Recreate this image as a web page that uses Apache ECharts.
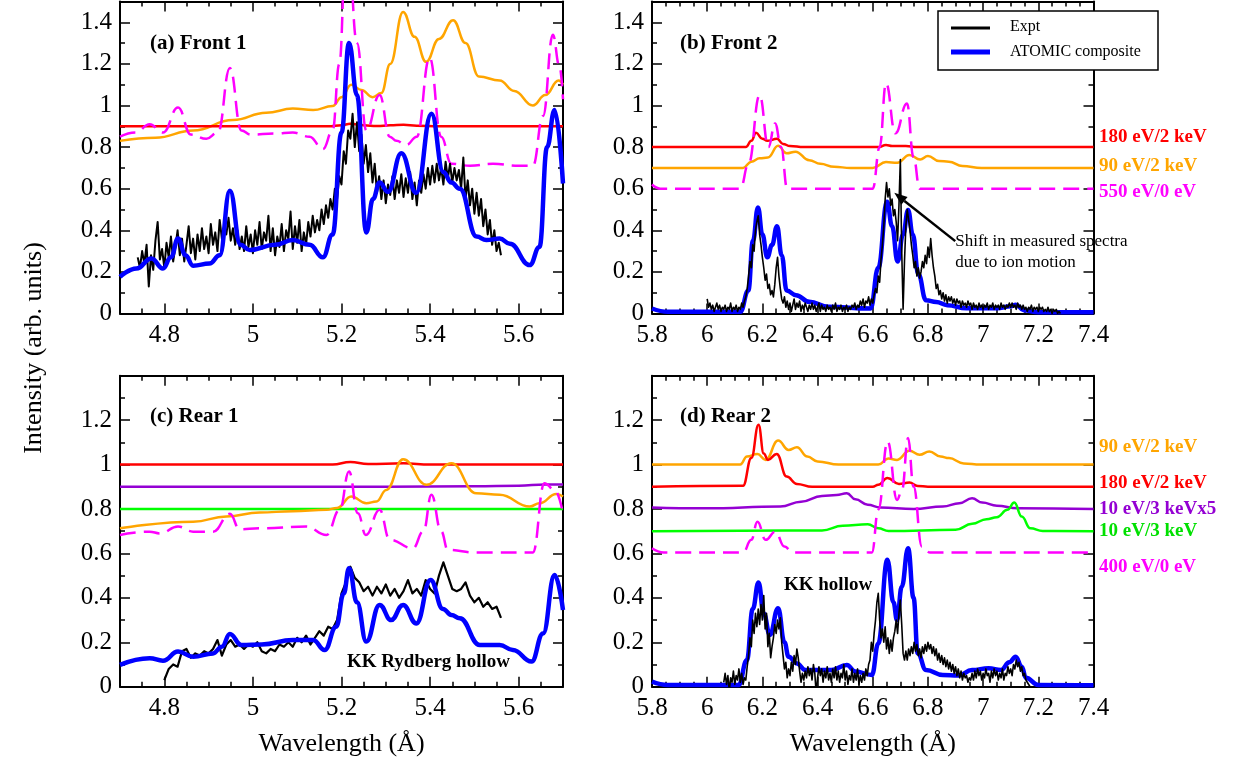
<!DOCTYPE html>
<html>
<head>
<meta charset="utf-8">
<title>Spectra</title>
<script src="https://cdn.jsdelivr.net/npm/echarts@6.0.0/dist/echarts.min.js"></script>
<style>
html, body { margin:0; padding:0; background:#fff; }
#main { width:1234px; height:762px; }
</style>
</head>
<body>
<div id="main"></div>
<script>
// ---------- data ----------
// (a) Front 1
var aRed = [[4.7,0.9],[5.0,0.9],[5.17,0.9],[5.2,0.905],[5.22,0.912],[5.25,0.905],[5.28,0.901],[5.31,0.905],[5.34,0.907],[5.37,0.903],[5.42,0.9],[5.7,0.9]];
var aOrange = [[4.7,0.83],[4.78,0.845],[4.865,0.88],[4.955,0.93],[5.03,0.965],[5.09,0.985],[5.136,0.978],[5.18,0.997],[5.2,1.04],[5.222,1.1],[5.245,1.075],[5.27,1.04],[5.29,1.06],[5.31,1.2],[5.339,1.45],[5.365,1.33],[5.391,1.21],[5.42,1.32],[5.452,1.41],[5.48,1.3],[5.51,1.14],[5.557,1.12],[5.59,1.07],[5.632,1.0],[5.66,1.05],[5.69,1.12],[5.7,1.1]];
var aMagenta = [[4.7,0.85],[4.735,0.87],[4.767,0.91],[4.797,0.87],[4.831,0.99],[4.86,0.86],[4.895,0.84],[4.921,0.87],[4.948,1.18],[4.974,0.88],[4.995,0.86],[5.05,0.865],[5.09,0.87],[5.128,0.85],[5.158,0.79],[5.18,0.88],[5.195,1.2],[5.212,1.9],[5.235,1.3],[5.256,0.88],[5.286,1.05],[5.309,0.85],[5.324,0.83],[5.346,0.81],[5.37,0.85],[5.399,1.23],[5.425,0.85],[5.448,0.72],[5.49,0.71],[5.542,0.72],[5.6,0.71],[5.632,0.71],[5.655,0.95],[5.677,1.34],[5.692,1.19],[5.7,1.03]];
var aBlue = [[4.7,0.176],[4.737,0.216],[4.771,0.265],[4.797,0.216],[4.815,0.27],[4.831,0.36],[4.848,0.28],[4.865,0.23],[4.902,0.24],[4.925,0.28],[4.948,0.59],[4.972,0.33],[4.993,0.305],[5.05,0.33],[5.09,0.353],[5.128,0.33],[5.158,0.27],[5.18,0.38],[5.2,0.87],[5.217,1.30],[5.235,1.05],[5.256,0.39],[5.271,0.55],[5.286,0.63],[5.305,0.585],[5.335,0.77],[5.369,0.58],[5.403,0.96],[5.43,0.68],[5.448,0.63],[5.467,0.6],[5.505,0.37],[5.527,0.353],[5.557,0.36],[5.58,0.335],[5.625,0.233],[5.647,0.32],[5.664,0.8],[5.681,0.978],[5.7,0.625]];
var aExptStart = 4.74, aExptStep = 0.005;
var aExpt = [
  0.27,0.22,0.30,0.24,0.33,0.13,0.28,0.21,0.35,0.44,
  0.26,0.31,0.22,0.34,0.27,0.37,0.25,0.32,0.40,0.28,
  0.36,0.25,0.33,0.42,0.29,0.36,0.26,0.38,0.30,0.41,
  0.31,0.37,0.29,0.43,0.33,0.39,0.30,0.45,0.36,0.42,
  0.38,0.46,0.35,0.41,0.33,0.40,0.31,0.37,0.30,0.42,
  0.32,0.38,0.29,0.40,0.33,0.44,0.31,0.39,0.35,0.47,
  0.30,0.41,0.28,0.37,0.32,0.43,0.30,0.40,0.36,0.49,
  0.31,0.42,0.34,0.45,0.30,0.39,0.33,0.44,0.37,0.47,
  0.39,0.45,0.40,0.50,0.43,0.52,0.46,0.55,0.50,0.60,
  0.55,0.66,0.62,0.78,0.72,0.88,0.84,0.96,0.80,0.92,
  0.78,0.86,0.72,0.81,0.68,0.77,0.63,0.72,0.58,0.66,
  0.55,0.64,0.53,0.62,0.57,0.66,0.55,0.64,0.58,0.67,
  0.56,0.65,0.58,0.68,0.55,0.63,0.52,0.64,0.58,0.67,
  0.60,0.70,0.62,0.71,0.63,0.72,0.64,0.70,0.62,0.73,
  0.65,0.72,0.63,0.70,0.64,0.69,0.60,0.75,0.55,0.64,
  0.52,0.60,0.48,0.58,0.47,0.55,0.42,0.50,0.38,0.45,
  0.33,0.40,0.30,0.34,0.28
];

// (b) Front 2
var bRed = [[5.8,0.8],[6.14,0.8],[6.16,0.83],[6.177,0.869],[6.2,0.84],[6.218,0.83],[6.253,0.84],[6.275,0.815],[6.3,0.805],[6.35,0.8],[6.62,0.8],[6.648,0.81],[6.67,0.805],[6.72,0.805],[6.76,0.8],[7.4,0.8]];
var bOrange = [[5.8,0.7],[6.13,0.7],[6.16,0.73],[6.19,0.746],[6.22,0.75],[6.257,0.806],[6.288,0.77],[6.32,0.778],[6.37,0.737],[6.41,0.72],[6.46,0.705],[6.52,0.7],[6.6,0.7],[6.648,0.728],[6.689,0.725],[6.733,0.762],[6.772,0.74],[6.8,0.757],[6.84,0.733],[6.876,0.73],[6.925,0.709],[6.994,0.7],[7.4,0.7]];
var bMagenta = [[5.8,0.62],[5.83,0.6],[6.12,0.6],[6.15,0.72],[6.19,1.05],[6.222,0.8],[6.246,0.914],[6.268,0.8],[6.29,0.6],[6.6,0.6],[6.625,0.8],[6.648,1.107],[6.682,0.866],[6.724,1.01],[6.748,0.75],[6.77,0.6],[7.4,0.6]];
var bBlue = [[5.8,0.024],[5.858,0.008],[6.12,0.008],[6.149,0.11],[6.166,0.35],[6.184,0.51],[6.2,0.38],[6.218,0.27],[6.235,0.33],[6.253,0.42],[6.27,0.28],[6.288,0.11],[6.322,0.088],[6.37,0.056],[6.44,0.032],[6.592,0.024],[6.62,0.22],[6.652,0.537],[6.67,0.42],[6.69,0.25],[6.71,0.38],[6.728,0.497],[6.745,0.38],[6.765,0.19],[6.793,0.064],[6.83,0.055],[6.87,0.04],[6.94,0.025],[7.05,0.025],[7.1,0.035],[7.119,0.042],[7.147,0.016],[7.2,0.006],[7.4,0.006]];
var bExptStart = 6.0, bExptStep = 0.005;
var bExpt = [
  0.07,0.03,0.05,0.02,0.04,0.01,0.03,0.05,0.02,0.04,0.01,0.03,0.02,0.04,0.01,0.03,0.02,0.05,0.01,0.03,
  0.02,0.04,0.01,0.03,0.02,0.05,0.03,0.06,0.08,0.12,0.18,0.25,0.22,0.33,0.30,0.40,0.44,0.47,0.38,0.33,
  0.27,0.22,0.16,0.19,0.12,0.14,0.09,0.11,0.08,0.14,0.22,0.27,0.18,0.12,0.07,0.05,0.08,0.03,0.06,0.02,
  0.05,0.01,0.04,0.07,0.02,0.05,0.03,0.06,0.01,0.04,0.02,0.05,0.03,0.01,0.04,0.02,0.05,0.02,0.04,0.01,
  0.03,0.05,0.01,0.04,0.02,0.03,0.01,0.04,0.02,0.03,0.01,0.04,0.02,0.05,0.01,0.03,0.02,0.04,0.01,0.03,
  0.02,0.04,0.01,0.03,0.02,0.04,0.03,0.05,0.02,0.04,0.03,0.06,0.04,0.07,0.03,0.06,0.05,0.08,0.04,0.07,
  0.05,0.09,0.12,0.10,0.18,0.15,0.26,0.33,0.42,0.55,0.63,0.56,0.60,0.52,0.55,0.47,0.50,0.44,0.35,0.52,
  0.74,0.30,0.02,0.25,0.42,0.50,0.45,0.40,0.33,0.28,0.22,0.25,0.18,0.22,0.17,0.20,0.25,0.22,0.28,0.24,
  0.32,0.27,0.36,0.28,0.22,0.18,0.12,0.14,0.09,0.11,0.07,0.10,0.06,0.09,0.05,0.08,0.06,0.08,0.05,0.07,
  0.04,0.07,0.05,0.06,0.03,0.06,0.04,0.05,0.03,0.06,0.04,0.05,0.02,0.05,0.03,0.04,0.02,0.05,0.03,0.04,
  0.02,0.04,0.03,0.05,0.02,0.04,0.03,0.05,0.02,0.04,0.03,0.04,0.02,0.05,0.03,0.04,0.02,0.04,0.03,0.05,
  0.03,0.05,0.03,0.04,0.02,0.05,0.03,0.04,0.02,0.04,0.02,0.03,0.01,0.03,0.02,0.04,0.01,0.03,0.02,0.03,
  0.01,0.03,0.02,0.03,0.01,0.02,0.01,0.03,0.01,0.02,0.00,0.02,0.01,0.02,0.00,0.01,0.00
];

// (c) Rear 1
var cRed = [[4.7,1.0],[5.18,1.0],[5.22,1.012],[5.26,1.002],[5.34,1.006],[5.4,1.0],[5.7,1.0]];
var cPurple = [[4.7,0.9],[5.3,0.9],[5.5,0.902],[5.6,0.905],[5.66,0.91],[5.7,0.91]];
var cGreen = [[4.7,0.8],[5.7,0.8]];
var cOrange = [[4.7,0.713],[4.865,0.743],[4.94,0.766],[5.015,0.784],[5.09,0.79],[5.166,0.796],[5.19,0.805],[5.222,0.856],[5.256,0.826],[5.279,0.834],[5.301,0.886],[5.339,1.024],[5.392,0.909],[5.448,1.006],[5.504,0.871],[5.557,0.864],[5.625,0.811],[5.647,0.826],[5.685,0.868],[5.7,0.856]];
var cMagenta = [[4.7,0.683],[4.767,0.698],[4.79,0.69],[4.831,0.721],[4.865,0.698],[4.91,0.698],[4.948,0.778],[4.97,0.709],[5.015,0.713],[5.12,0.721],[5.166,0.683],[5.196,0.796],[5.217,0.969],[5.237,0.781],[5.255,0.683],[5.286,0.796],[5.309,0.661],[5.361,0.623],[5.385,0.7],[5.403,0.864],[5.425,0.7],[5.44,0.616],[5.504,0.604],[5.632,0.604],[5.658,0.916],[5.681,0.886],[5.7,0.781]];
var cBlue = [[4.7,0.098],[4.767,0.128],[4.797,0.117],[4.831,0.158],[4.865,0.135],[4.91,0.15],[4.93,0.18],[4.948,0.237],[4.974,0.188],[5.02,0.19],[5.09,0.21],[5.136,0.21],[5.162,0.165],[5.188,0.27],[5.205,0.42],[5.217,0.533],[5.235,0.38],[5.256,0.203],[5.286,0.368],[5.312,0.30],[5.339,0.368],[5.369,0.285],[5.401,0.48],[5.429,0.35],[5.448,0.323],[5.467,0.308],[5.512,0.188],[5.557,0.188],[5.587,0.165],[5.629,0.113],[5.655,0.24],[5.681,0.503],[5.7,0.345]];
var cExptStart = 4.8, cExptStep = 0.01;
var cExpt = [
  0.03,0.08,0.10,0.09,0.16,0.17,0.13,0.15,0.14,0.16,
  0.15,0.17,0.21,0.14,0.19,0.21,0.18,0.19,0.17,0.19,
  0.18,0.20,0.16,0.15,0.17,0.16,0.19,0.18,0.20,0.18,
  0.22,0.20,0.23,0.19,0.22,0.25,0.23,0.27,0.26,0.30,
  0.42,0.47,0.54,0.49,0.47,0.43,0.45,0.41,0.45,0.42,
  0.46,0.41,0.44,0.40,0.43,0.48,0.42,0.44,0.41,0.48,
  0.44,0.42,0.50,0.56,0.50,0.44,0.43,0.44,0.47,0.41,
  0.38,0.40,0.36,0.38,0.35,0.36,0.31
];

// (d) Rear 2
var dOrange = [[5.8,1.0],[6.12,1.0],[6.144,1.036],[6.182,1.047],[6.212,1.021],[6.257,1.108],[6.295,1.066],[6.325,1.078],[6.363,1.036],[6.4,1.014],[6.476,1.0],[6.62,1.0],[6.657,1.027],[6.688,1.021],[6.733,1.062],[6.77,1.044],[6.805,1.059],[6.846,1.036],[6.876,1.029],[6.93,1.005],[6.99,1.0],[7.4,1.0]];
var dRed = [[5.8,0.9],[6.13,0.905],[6.16,1.03],[6.186,1.179],[6.205,1.05],[6.22,1.021],[6.252,1.048],[6.288,0.946],[6.325,0.913],[6.38,0.9],[6.6,0.9],[6.62,0.909],[6.653,0.939],[6.695,0.913],[6.733,0.919],[6.763,0.904],[6.8,0.9],[7.4,0.9]];
var dPurple = [[5.8,0.807],[5.993,0.803],[6.265,0.811],[6.34,0.833],[6.416,0.859],[6.469,0.863],[6.506,0.871],[6.537,0.844],[6.582,0.819],[6.627,0.807],[6.748,0.8],[6.854,0.811],[6.914,0.826],[6.96,0.848],[6.997,0.829],[7.05,0.815],[7.125,0.803],[7.4,0.8]];
var dGreen = [[5.8,0.7],[6.416,0.703],[6.491,0.724],[6.582,0.731],[6.62,0.713],[6.657,0.701],[6.9,0.706],[6.96,0.733],[7.012,0.754],[7.05,0.763],[7.088,0.796],[7.113,0.829],[7.14,0.766],[7.171,0.713],[7.216,0.701],[7.4,0.7]];
var dMagenta = [[5.8,0.623],[5.842,0.604],[6.13,0.604],[6.16,0.661],[6.182,0.743],[6.212,0.661],[6.247,0.698],[6.28,0.631],[6.31,0.604],[6.597,0.604],[6.62,0.796],[6.654,1.104],[6.688,0.841],[6.706,0.886],[6.728,1.119],[6.748,0.901],[6.778,0.631],[6.808,0.604],[7.4,0.604]];
var dBlue = [[5.8,0.023],[5.857,0.008],[6.114,0.008],[6.144,0.12],[6.165,0.35],[6.186,0.469],[6.205,0.33],[6.227,0.233],[6.257,0.353],[6.28,0.2],[6.295,0.135],[6.325,0.105],[6.356,0.075],[6.45,0.075],[6.506,0.098],[6.537,0.068],[6.597,0.053],[6.62,0.195],[6.653,0.571],[6.675,0.38],[6.688,0.3],[6.705,0.45],[6.728,0.623],[6.748,0.4],[6.763,0.15],[6.793,0.075],[6.854,0.053],[6.91,0.05],[6.96,0.075],[7.02,0.083],[7.065,0.075],[7.095,0.11],[7.118,0.135],[7.14,0.09],[7.155,0.04],[7.2,0.008],[7.4,0.006]];
var dExptStart = 6.06, dExptStep = 0.005;
var dExpt = [
  0.02,0.06,0.01,0.05,-0.02,0.04,0.02,0.07,0.01,0.05,0.03,0.08,0.02,0.06,0.01,0.04,0.03,0.09,0.14,0.22,
  0.18,0.30,0.24,0.33,0.27,0.35,0.28,0.37,0.30,0.41,0.26,0.33,0.18,0.24,0.13,0.18,0.22,0.28,0.24,0.30,
  0.26,0.31,0.20,0.14,0.08,0.11,0.04,0.08,0.05,0.11,0.07,0.14,0.10,0.17,0.13,0.07,0.02,0.06,0.03,0.07,
  0.04,0.09,0.05,0.08,0.03,0.10,0.06,-0.03,0.04,0.09,0.05,0.08,0.02,0.07,0.04,0.09,0.03,0.06,0.02,0.08,
  0.04,0.09,0.03,0.07,0.02,0.06,0.04,0.10,0.03,0.07,0.01,0.05,0.03,0.08,0.02,0.06,0.03,0.08,0.01,0.05,
  0.02,0.06,0.03,0.08,0.05,0.10,0.12,0.20,0.16,0.24,0.30,0.38,0.42,0.30,0.22,0.26,0.20,0.27,0.17,0.22,
  0.15,0.21,0.16,0.22,0.25,0.30,0.24,0.33,0.39,0.28,0.15,0.12,0.16,0.12,0.17,0.14,0.18,0.15,0.20,0.16,
  0.19,0.14,0.17,0.13,0.18,0.15,0.19,0.16,0.20,0.17,0.19,0.15,0.18,0.14,0.17,0.12,0.15,0.11,0.14,0.10,
  0.13,0.09,0.12,0.08,0.11,0.07,0.10,0.06,0.09,0.05,0.08,0.04,0.07,0.03,0.06,0.04,0.05,0.02,0.04,0.03,
  0.06,0.03,0.07,0.04,0.08,0.05,0.07,0.03,0.06,0.04,0.08,0.05,0.06,0.02,0.07,0.04,0.08,0.05,0.07,0.03,
  0.06,0.04,0.08,0.03,0.06,0.05,0.09,0.06,0.08,0.05,0.10,0.08,0.12,0.09,0.11,0.07,0.09,0.05,0.06,0.03,
  0.02,0.01,0.00,0.00,0.00
];

// tick / panel text
var panelTitles = ['(a) Front 1', '(b) Front 2', '(c) Rear 1', '(d) Rear 2'];
var bTags = [['180 eV/2 keV', '#ff0000'], ['90 eV/2 keV', '#ffa500'], ['550 eV/0 eV', '#ff00ff']];
var dTags = [['90 eV/2 keV', '#ffa500'], ['180 eV/2 keV', '#ff0000'], ['10 eV/3 keVx5', '#9400d3'], ['10 eV/3 keV', '#00e000'], ['400 eV/0 eV', '#ff00ff']];
var legendNames = ['Expt', 'ATOMIC composite'];

// ---------- chart ----------
var SERIF = '"Liberation Serif", "DejaVu Serif", serif';
var chart = echarts.init(document.getElementById('main'));

function sampled(start, step, ys) {
    return ys.map(function (y, i) { return [+(start + i * step).toFixed(4), y]; });
}

var grids = [
    {left: 120, top: 1.5, width: 443, height: 312},
    {left: 652, top: 1.5, width: 441.5, height: 312},
    {left: 120, top: 375.7, width: 443, height: 311},
    {left: 652, top: 375.7, width: 441.5, height: 311}
];
grids.forEach(function (g) { g.outerBoundsMode = 'none'; g.containLabel = false; });

var tickStyle = {color: '#000', width: 1.5};
var xAxes = [], yAxes = [];
function addX(gi, min, max, interval, named) {
    ['bottom', 'top'].forEach(function (pos) {
        var ax = {
            type: 'value', gridIndex: gi, position: pos, min: min, max: max,
            axisLine: {show: true, onZero: false, lineStyle: {color: '#000', width: 2}},
            axisTick: {show: true, inside: true, length: 10, lineStyle: tickStyle},
            minorTick: {show: true, splitNumber: 4, length: 5, lineStyle: tickStyle},
            splitLine: {show: false},
            axisLabel: {show: pos === 'bottom', margin: 9, color: '#000', fontFamily: SERIF, fontSize: 25,
                showMinLabel: !!interval, showMaxLabel: !!interval}
        };
        // 4.7..5.7 panels: let echarts pick 0.2 so ticks land on 4.8, 5.0, ...
        if (interval) ax.interval = interval; else ax.splitNumber = 5;
        if (named && pos === 'bottom') {
            ax.name = 'Wavelength (Å)';
            ax.nameLocation = 'middle';
            ax.nameGap = 44;
            ax.nameTextStyle = {color: '#000', fontFamily: SERIF, fontSize: 26};
        }
        xAxes.push(ax);
    });
}
function addY(gi, max) {
    ['left', 'right'].forEach(function (pos) {
        yAxes.push({
            type: 'value', gridIndex: gi, position: pos, min: 0, max: max, interval: 0.2,
            axisLine: {show: true, onZero: false, lineStyle: {color: '#000', width: 2}},
            axisTick: {show: true, inside: true, length: 10, lineStyle: tickStyle},
            minorTick: {show: true, splitNumber: 2, length: 5, lineStyle: tickStyle},
            splitLine: {show: false},
            axisLabel: {show: pos === 'left', margin: 8, color: '#000', fontFamily: SERIF, fontSize: 25,
                showMaxLabel: false}
        });
    });
}
addX(0, 4.7, 5.7, null, false); addY(0, 1.5);
addX(1, 5.8, 7.4, 0.2, false); addY(1, 1.5);
addX(2, 4.7, 5.7, null, true);  addY(2, 1.4);
addX(3, 5.8, 7.4, 0.2, true);  addY(3, 1.4);

function line(gi, data, color, width, opt) {
    opt = opt || {};
    return {
        type: 'line', xAxisIndex: gi * 2, yAxisIndex: gi * 2, data: data,
        symbol: 'none', silent: true, animation: false,
        smooth: opt.raw ? false : 0.45, smoothMonotone: 'x',
        lineStyle: {color: color, width: width, type: opt.dash ? [16, 8] : 'solid', join: 'round', cap: 'butt'}
    };
}

var series = [
    line(0, aOrange, '#ffa500', 2.5),
    line(0, aRed, '#ff0000', 2.5),
    line(0, aMagenta, '#ff00ff', 2.5, {dash: true}),
    line(0, sampled(aExptStart, aExptStep, aExpt), '#000', 2, {raw: true}),
    line(0, aBlue, '#0000ff', 4.5),

    line(1, bRed, '#ff0000', 2.5),
    line(1, bOrange, '#ffa500', 2.5),
    line(1, bMagenta, '#ff00ff', 2.5, {dash: true}),
    line(1, bBlue, '#0000ff', 4.5),
    line(1, sampled(bExptStart, bExptStep, bExpt), '#000', 1.6, {raw: true}),

    line(2, cRed, '#ff0000', 2.5),
    line(2, cPurple, '#9400d3', 2.5),
    line(2, cGreen, '#00ff00', 2.5),
    line(2, cOrange, '#ffa500', 2.5),
    line(2, cMagenta, '#ff00ff', 2.5, {dash: true}),
    line(2, sampled(cExptStart, cExptStep, cExpt), '#000', 2.2, {raw: true}),
    line(2, cBlue, '#0000ff', 4.5),

    line(3, dOrange, '#ffa500', 2.5),
    line(3, dRed, '#ff0000', 2.5),
    line(3, dPurple, '#9400d3', 2.5),
    line(3, dGreen, '#00ff00', 2.5),
    line(3, dMagenta, '#ff00ff', 2.5, {dash: true}),
    line(3, dBlue, '#0000ff', 4.5),
    line(3, sampled(dExptStart, dExptStep, dExpt), '#000', 1.6, {raw: true})
];

function txt(x, y, text, font, color, z) {
    return {type: 'text', x: x, y: y, z: z || 50, silent: true,
        style: {text: text, font: font, fill: color || '#000', align: 'left', verticalAlign: 'middle'}};
}
var boldFont = 'bold 21px ' + SERIF;
var tagFont = 'bold 19px ' + SERIF;
var graphics = [
    txt(150, 44, panelTitles[0], boldFont),
    txt(680, 44, panelTitles[1], boldFont),
    txt(150, 417, panelTitles[2], boldFont),
    txt(680, 417, panelTitles[3], boldFont),
    txt(347, 662, 'KK Rydberg hollow', tagFont),
    txt(784, 585, 'KK hollow', tagFont),
    {type: 'text', x: 34, y: 348, rotation: Math.PI / 2, z: 50, silent: true,
        style: {text: 'Intensity (arb. units)', font: '26px ' + SERIF, fill: '#000', align: 'center', verticalAlign: 'middle'}}
];
var bTagY = [137, 166, 192];
bTags.forEach(function (t, i) { graphics.push(txt(1099, bTagY[i], t[0], tagFont, t[1])); });
var dTagY = [447, 483, 509, 531, 567];
dTags.forEach(function (t, i) { graphics.push(txt(1099, dTagY[i], t[0], tagFont, t[1])); });

// legend box
graphics.push({type: 'rect', z: 60, silent: true, shape: {x: 938, y: 11, width: 220, height: 59},
    style: {fill: '#fff', stroke: '#000', lineWidth: 1.5}});
graphics.push({type: 'line', z: 61, silent: true, shape: {x1: 951, y1: 28, x2: 990, y2: 28}, style: {stroke: '#000', lineWidth: 3}});
graphics.push({type: 'line', z: 61, silent: true, shape: {x1: 951, y1: 52, x2: 990, y2: 52}, style: {stroke: '#0000ff', lineWidth: 5}});
graphics.push(txt(1010, 27, legendNames[0], '16px ' + SERIF, '#000', 62));
graphics.push(txt(1010, 52, legendNames[1], '16px ' + SERIF, '#000', 62));

chart.setOption({
    animation: false,
    backgroundColor: '#fff',
    grid: grids,
    xAxis: xAxes,
    yAxis: yAxes,
    series: series,
    graphic: graphics
});

// annotation arrow in panel (b), anchored in data space
var tip = chart.convertToPixel({gridIndex: 1}, [6.678, 0.58]);
var tail = chart.convertToPixel({gridIndex: 1}, [6.899, 0.348]);
var ang = Math.atan2(tip[1] - tail[1], tip[0] - tail[0]);
var hl = 13, hw = 5;
var bx = tip[0] - hl * Math.cos(ang), by = tip[1] - hl * Math.sin(ang);
var head = [tip,
    [bx + hw * Math.sin(ang), by - hw * Math.cos(ang)],
    [bx - hw * Math.sin(ang), by + hw * Math.cos(ang)]];
graphics.push({type: 'line', z: 55, silent: true, shape: {x1: tail[0], y1: tail[1], x2: bx, y2: by}, style: {stroke: '#000', lineWidth: 2.5}});
graphics.push({type: 'polygon', z: 55, silent: true, shape: {points: head}, style: {fill: '#000'}});
graphics.push(txt(tail[0], tail[1], 'Shift in measured spectra', '17px ' + SERIF));
graphics.push(txt(tail[0], tail[1] + 21, 'due to ion motion', '17px ' + SERIF));
chart.setOption({graphic: graphics}, {replaceMerge: ['graphic']});
</script>
</body>
</html>
